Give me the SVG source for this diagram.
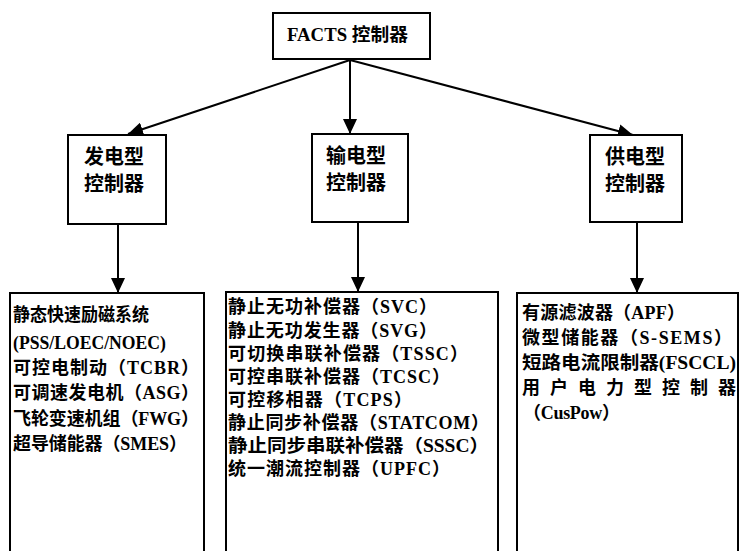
<svg xmlns="http://www.w3.org/2000/svg" width="741" height="551" viewBox="0 0 741 551">
<style>
.box{fill:#fff;stroke:#000;stroke-width:2}
.open{fill:none;stroke:#000;stroke-width:2}
.t{font-family:"Liberation Serif","Noto Sans CJK SC",serif;font-weight:bold;font-size:18px;fill:#000}
.h{font-family:"Liberation Serif","Noto Sans CJK SC",serif;font-weight:bold;font-size:20px;fill:#000}
.c{stroke:#000;stroke-width:2;fill:none;marker-end:url(#ah)}
</style>
<defs>
<marker id="ah" markerUnits="userSpaceOnUse" markerWidth="16" markerHeight="14" refX="15" refY="7" orient="auto">
<path d="M0,0 L15,7 L0,14 Z" fill="#000"/>
</marker>
</defs>
<rect width="741" height="551" fill="#fff"/>
<g id="connectors">
<line class="c" x1="350" y1="60" x2="128" y2="134"/>
<line class="c" x1="350" y1="60" x2="350" y2="134"/>
<line class="c" x1="350" y1="60" x2="633" y2="135"/>
<line class="c" x1="118" y1="224" x2="118" y2="293"/>
<line class="c" x1="358" y1="222" x2="358" y2="292"/>
<line class="c" x1="637" y1="222" x2="637" y2="293"/>
</g>
<g id="facts">
<rect class="box" x="273" y="13" width="157" height="46"/>
<text class="t" x="287" y="41" textLength="121" lengthAdjust="spacingAndGlyphs">FACTS 控制器</text>
</g>
<g id="gen">
<rect class="box" x="68" y="135" width="98" height="89"/>
<text class="h" x="84" y="164">发电型</text>
<text class="h" x="84" y="191">控制器</text>
</g>
<g id="trans">
<rect class="box" x="312" y="134" width="96" height="88"/>
<text class="h" x="326" y="163">输电型</text>
<text class="h" x="326" y="190">控制器</text>
</g>
<g id="supply">
<rect class="box" x="590" y="135" width="92" height="87"/>
<text class="h" x="605" y="164">供电型</text>
<text class="h" x="605" y="191">控制器</text>
</g>
<g id="gen-list">
<path class="open" d="M10,551 V293 H204 V551"/>
<text class="t" x="13" y="321" textLength="136" lengthAdjust="spacingAndGlyphs">静态快速励磁系统</text>
<text class="t" x="13" y="349" textLength="153" lengthAdjust="spacingAndGlyphs">(PSS/LOEC/NOEC)</text>
<text class="t" x="13" y="374" textLength="186" lengthAdjust="spacing">可控电制动（TCBR）</text>
<text class="t" x="13" y="399" textLength="186" lengthAdjust="spacing">可调速发电机（ASG）</text>
<text class="t" x="13" y="425" textLength="186" lengthAdjust="spacing">飞轮变速机组（FWG）</text>
<text class="t" x="13" y="450" textLength="174" lengthAdjust="spacing">超导储能器（SMES）</text>
</g>
<g id="trans-list">
<path class="open" d="M226,551 V292 H498 V551"/>
<text class="t" x="228" y="313" textLength="209" lengthAdjust="spacing">静止无功补偿器（SVC）</text>
<text class="t" x="228" y="337" textLength="209" lengthAdjust="spacing">静止无功发生器（SVG）</text>
<text class="t" x="228" y="360" textLength="240" lengthAdjust="spacing">可切换串联补偿器（TSSC）</text>
<text class="t" x="228" y="383" textLength="222" lengthAdjust="spacing">可控串联补偿器（TCSC）</text>
<text class="t" x="228" y="406" textLength="184" lengthAdjust="spacing">可控移相器（TCPS）</text>
<text class="t" x="228" y="429" textLength="261" lengthAdjust="spacing">静止同步补偿器（STATCOM）</text>
<text class="t" x="228" y="452" textLength="261" lengthAdjust="spacingAndGlyphs">静止同步串联补偿器（SSSC）</text>
<text class="t" x="228" y="475" textLength="222" lengthAdjust="spacing">统一潮流控制器（UPFC）</text>
</g>
<g id="supply-list">
<path class="open" d="M517,551 V293 H738 V551"/>
<text class="t" x="522" y="319" textLength="163" lengthAdjust="spacing">有源滤波器（APF）</text>
<text class="t" x="522" y="344" textLength="210" lengthAdjust="spacing">微型储能器（S-SEMS）</text>
<text class="t" x="522" y="369" textLength="214" lengthAdjust="spacingAndGlyphs">短路电流限制器(FSCCL)</text>
<text class="t" x="522" y="394" textLength="214" lengthAdjust="spacing">用户电力型控制器</text>
<text class="t" x="523" y="419" textLength="97" lengthAdjust="spacing">（CusPow）</text>
</g>
</svg>
